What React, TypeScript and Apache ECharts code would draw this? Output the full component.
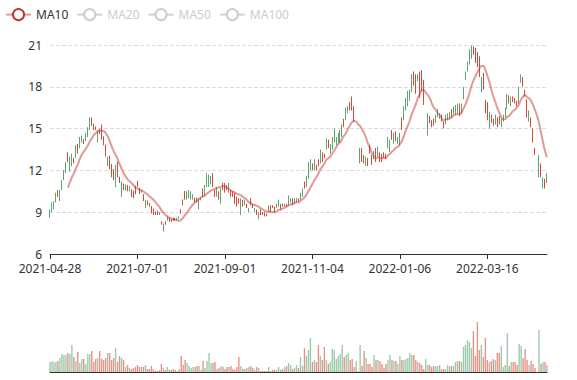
import React, { useEffect, useRef } from "react";
import * as echarts from "echarts";

// ---- categories: trading days ----
const START_DATE = "2021-04-28";
const DAY_COUNT = 251;
const HOLIDAYS = [
  "2021-05-03", "2021-05-04", "2021-10-01", "2021-10-04", "2022-01-03",
  "2022-01-31", "2022-02-01", "2022-02-02", "2022-02-03", "2022-02-04",
];

// ---- candles: [open, close, low, high] ----
const ohlc: number[][] = [
  [8.7, 9.1, 8.6, 9.2], [9.1, 9.6, 9.0, 9.7], [9.3, 9.7, 9.2, 9.8], [9.7, 10.3, 9.7, 10.4], [10.5, 10.2, 10.1, 10.6],
  [9.9, 10.5, 9.8, 10.6], [10.6, 11.2, 10.6, 11.3], [11.3, 11.9, 11.3, 12.0], [11.9, 12.5, 11.8, 12.6], [13.2, 12.7, 12.6, 13.3],
  [12.0, 12.9, 11.9, 13.0], [12.4, 13.1, 12.3, 13.2], [12.8, 12.6, 12.5, 12.9], [13.0, 13.7, 12.9, 13.8], [13.8, 13.3, 13.2, 13.9],
  [13.7, 14.3, 13.6, 14.4], [14.1, 14.4, 14.0, 14.5], [14.2, 14.0, 13.9, 14.25], [14.2, 14.6, 14.1, 14.7], [14.5, 15.0, 14.4, 15.1],
  [15.0, 15.7, 14.9, 15.8], [15.7, 15.3, 15.2, 15.8], [15.3, 15.0, 14.9, 15.35], [15.1, 14.95, 14.9, 15.15], [14.1, 14.8, 14.0, 14.9],
  [15.0, 14.7, 14.6, 15.0], [15.2, 14.3, 14.2, 15.3], [14.4, 13.9, 13.8, 14.45], [13.8, 13.1, 13.0, 13.85], [12.4, 12.9, 12.3, 13.0],
  [13.0, 12.2, 12.1, 13.05], [12.4, 11.6, 11.5, 12.45], [12.0, 11.4, 11.3, 12.1], [11.0, 12.3, 10.8, 12.4], [12.5, 11.6, 11.5, 12.6],
  [11.5, 11.2, 11.1, 11.55], [10.2, 11.1, 10.1, 11.2], [11.0, 10.7, 10.6, 11.05], [10.6, 10.9, 10.55, 11.0], [10.9, 10.6, 10.5, 10.95],
  [10.6, 10.8, 10.5, 10.9], [10.6, 10.2, 10.1, 10.65], [10.5, 10.1, 10.0, 10.55], [10.8, 10.4, 10.3, 10.9], [11.2, 11.0, 10.8, 11.25],
  [10.7, 10.4, 10.3, 10.75], [10.45, 10.55, 10.4, 10.6], [10.2, 9.9, 9.8, 10.3], [9.4, 9.8, 9.3, 9.9], [9.8, 9.6, 9.5, 9.85],
  [9.6, 9.45, 9.4, 9.65], [9.4, 9.0, 8.9, 9.45], [9.2, 8.9, 8.8, 9.25], [9.0, 8.85, 8.8, 9.05], [9.1, 8.9, 8.8, 9.1],
  [8.85, 8.95, 8.8, 9.0], [8.3, 8.15, 8.1, 8.35], [7.7, 8.1, 7.6, 8.2], [8.3, 8.15, 8.1, 8.35], [8.45, 8.65, 8.4, 8.7],
  [8.6, 8.35, 8.3, 8.62], [8.5, 8.35, 8.3, 8.52], [8.6, 8.45, 8.4, 8.62], [8.55, 8.45, 8.4, 8.57], [8.45, 8.55, 8.4, 8.6],
  [8.55, 8.65, 8.5, 8.7], [9.2, 8.95, 8.9, 9.22], [9.9, 9.6, 9.5, 9.92], [10.5, 10.0, 9.9, 10.52], [10.0, 10.4, 9.9, 10.5],
  [10.1, 10.5, 10.0, 10.6], [10.0, 10.4, 9.9, 10.5], [10.0, 10.2, 9.9, 10.3], [10.0, 9.8, 9.7, 10.05], [10.0, 9.8, 9.7, 10.05],
  [9.3, 9.9, 9.2, 10.0], [9.9, 10.0, 9.85, 10.05], [10.6, 10.2, 10.1, 10.7], [10.3, 10.9, 10.2, 10.95], [10.9, 11.7, 10.8, 11.8],
  [10.9, 11.6, 10.8, 11.7], [11.1, 11.5, 11.0, 11.6], [11.7, 10.9, 10.8, 11.8], [10.6, 10.2, 10.1, 10.6], [10.2, 10.7, 10.1, 10.8],
  [10.5, 10.0, 9.9, 10.5], [9.8, 10.6, 9.6, 10.7], [11.1, 10.7, 10.6, 11.1], [11.0, 10.5, 10.4, 11.1], [10.9, 10.7, 10.6, 10.95],
  [10.5, 11.0, 10.4, 11.1], [10.6, 10.2, 10.1, 10.6], [10.5, 10.2, 10.1, 10.5], [10.3, 9.7, 9.6, 10.4], [10.1, 9.5, 9.4, 10.1],
  [9.95, 9.7, 9.6, 10.0], [8.9, 9.9, 8.8, 10.0], [9.9, 9.5, 9.4, 9.9], [9.5, 9.8, 9.5, 9.9], [9.6, 9.35, 9.3, 9.6],
  [9.05, 9.25, 9.0, 9.3], [10.0, 9.6, 9.5, 10.0], [9.6, 9.35, 9.3, 9.6], [9.05, 9.25, 9.0, 9.3], [9.2, 8.85, 8.8, 9.2],
  [8.55, 8.95, 8.5, 9.0], [9.2, 8.85, 8.8, 9.2], [9.0, 8.85, 8.8, 9.0], [9.0, 8.75, 8.7, 9.0], [8.9, 8.75, 8.7, 8.9],
  [9.05, 9.45, 9.0, 9.5], [9.45, 9.05, 9.0, 9.5], [9.5, 9.35, 9.3, 9.5], [9.4, 9.05, 9.0, 9.4], [9.35, 9.55, 9.3, 9.6],
  [9.45, 9.85, 9.4, 9.9], [9.6, 9.25, 9.2, 9.6], [9.6, 9.45, 9.4, 9.6], [9.45, 9.55, 9.4, 9.6], [9.6, 9.45, 9.4, 9.6],
  [9.55, 10.1, 9.5, 10.2], [9.75, 9.95, 9.7, 10.0], [10.0, 9.6, 9.5, 10.0], [9.65, 9.95, 9.6, 10.0], [9.75, 9.95, 9.7, 10.0],
  [10.0, 9.8, 9.76, 10.0], [9.95, 10.35, 9.9, 10.4], [10.15, 10.65, 10.1, 10.7], [11.2, 10.75, 10.7, 11.2], [10.85, 11.55, 10.8, 11.6],
  [11.5, 12.5, 11.4, 12.6], [12.1, 12.7, 12.0, 12.8], [12.5, 12.05, 12.0, 12.5], [12.1, 12.7, 12.0, 12.8], [12.4, 12.05, 12.0, 12.4],
  [12.8, 12.35, 12.3, 12.8], [12.6, 13.4, 12.5, 13.5], [13.3, 12.7, 12.6, 13.3], [13.2, 12.95, 12.9, 13.2], [13.55, 14.2, 13.5, 14.3],
  [14.2, 13.65, 13.6, 14.2], [13.25, 13.85, 13.2, 13.9], [13.55, 14.3, 13.5, 14.4], [14.05, 14.9, 14.0, 15.0], [13.85, 14.35, 13.8, 14.4],
  [14.05, 14.6, 14.0, 14.7], [14.05, 14.8, 14.0, 14.9], [14.45, 15.2, 14.4, 15.3], [15.7, 15.15, 15.1, 15.7], [15.65, 16.4, 15.6, 16.5],
  [16.15, 16.55, 16.1, 16.6], [16.9, 16.35, 16.3, 16.9], [17.2, 16.4, 16.3, 17.3], [16.5, 15.6, 15.5, 16.6], [14.04, 14.04, 14.04, 14.04],
  [12.64, 12.64, 12.64, 12.64], [12.6, 13.4, 12.5, 13.6], [13.5, 12.8, 12.6, 13.6], [13.0, 12.6, 12.5, 13.1], [12.4, 12.9, 12.3, 13.0],
  [12.8, 12.4, 12.3, 12.9], [13.7, 13.3, 13.2, 13.8], [13.0, 12.5, 12.4, 13.1], [12.85, 13.3, 12.8, 13.4], [13.5, 12.7, 12.6, 13.6],
  [13.05, 13.6, 13.0, 13.7], [13.25, 12.7, 12.6, 13.3], [13.15, 12.7, 12.6, 13.2], [13.25, 12.95, 12.9, 13.3], [13.15, 12.85, 12.8, 13.2],
  [13.65, 14.3, 13.6, 14.4], [13.35, 14.1, 13.3, 14.2], [14.85, 14.25, 14.2, 14.9], [13.95, 14.6, 13.9, 14.7], [14.75, 14.15, 14.1, 14.8],
  [13.95, 14.35, 13.9, 14.4], [13.85, 14.6, 13.8, 14.7], [15.75, 14.95, 14.9, 15.8], [15.65, 16.5, 15.6, 16.6], [16.35, 17.1, 16.3, 17.2],
  [16.65, 17.6, 16.6, 17.7], [17.05, 17.7, 17.0, 17.8], [17.65, 18.8, 17.6, 18.9], [19.0, 18.2, 18.1, 19.1], [18.8, 17.6, 17.5, 18.9],
  [18.45, 18.85, 18.4, 18.9], [19.0, 17.3, 17.2, 19.1], [19.1, 17.8, 17.7, 19.2], [18.4, 16.8, 16.7, 18.5], [15.12, 15.12, 15.12, 15.12],
  [14.6, 16.0, 14.5, 16.1], [15.85, 15.5, 15.4, 15.9], [15.55, 15.15, 15.1, 15.6], [15.65, 15.25, 15.2, 15.7], [15.45, 15.9, 15.4, 16.0],
  [15.85, 16.3, 15.8, 16.4], [15.75, 16.05, 15.7, 16.1], [15.95, 15.55, 15.5, 16.0], [15.45, 15.05, 15.0, 15.5], [15.35, 15.9, 15.3, 16.0],
  [15.65, 16.05, 15.6, 16.1], [15.75, 16.15, 15.7, 16.2], [16.35, 15.85, 15.8, 16.4], [16.05, 16.5, 16.0, 16.6], [16.05, 16.6, 16.0, 16.7],
  [16.15, 16.7, 16.1, 16.8], [16.75, 16.0, 15.9, 16.8], [16.15, 16.7, 16.1, 16.8], [17.15, 17.9, 17.1, 18.0], [18.55, 19.0, 18.5, 19.1],
  [19.15, 19.7, 19.1, 19.8], [19.65, 20.6, 19.6, 20.7], [20.05, 20.9, 20.0, 20.95], [20.85, 20.35, 20.3, 20.9], [20.75, 19.75, 19.7, 20.8],
  [20.45, 19.45, 19.4, 20.5], [20.15, 18.75, 18.7, 20.2], [17.65, 18.6, 17.6, 18.7], [18.95, 17.85, 17.8, 19.0], [17.0, 16.15, 16.1, 17.05],
  [16.85, 15.65, 15.6, 16.9], [15.05, 16.1, 15.0, 16.2], [15.95, 15.45, 15.4, 16.0], [15.65, 15.25, 15.2, 15.7], [15.35, 15.9, 15.3, 16.0],
  [15.75, 15.15, 15.1, 15.8], [15.85, 15.35, 15.3, 15.9], [15.15, 15.6, 15.1, 15.7], [15.55, 15.95, 15.5, 16.0], [15.9, 16.4, 15.8, 16.5],
  [16.45, 17.4, 16.4, 17.5], [17.35, 16.85, 16.8, 17.4], [16.65, 17.2, 16.6, 17.3], [17.25, 16.95, 16.9, 17.3], [17.15, 16.85, 16.8, 17.2],
  [16.95, 16.65, 16.6, 17.0], [16.85, 17.9, 16.8, 18.0], [18.35, 18.8, 18.3, 18.9], [18.65, 18.05, 18.0, 18.7], [17.75, 17.35, 17.3, 17.8],
  [17.05, 15.85, 15.8, 17.1], [15.6, 16.2, 15.5, 16.3], [15.75, 15.15, 15.1, 15.8], [14.95, 14.05, 14.0, 15.0], [13.55, 13.15, 13.1, 13.6],
  [12.6, 12.6, 12.6, 12.6], [11.6, 12.9, 11.5, 13.1], [12.4, 11.6, 11.5, 12.5], [10.8, 11.4, 10.7, 11.5], [11.35, 10.8, 10.7, 11.4],
  [11.15, 11.7, 11.1, 11.8],
];

// ---- volume (arbitrary units) ----
const volumes: number[] = [
  10, 11, 10, 10, 11, 14, 18, 17, 17, 19, 18, 27, 15, 11, 20, 9, 13, 13, 8, 18,
  18, 21, 10, 13, 14, 21, 13, 12, 14, 19, 19, 12, 14, 24, 10, 16, 14, 12, 5, 7,
  4, 3, 4, 5, 7, 5, 5, 5, 7, 3, 3, 6, 3, 1, 1, 2, 8, 4, 2, 5,
  2, 2, 3, 2, 1, 3, 16, 7, 12, 9, 6, 4, 5, 5, 6, 6, 2, 11, 4, 11,
  19, 9, 9, 10, 3, 4, 6, 5, 3, 5, 5, 6, 3, 2, 5, 15, 6, 3, 3, 4,
  5, 6, 4, 2, 5, 4, 1, 1, 1, 1, 5, 1, 2, 2, 2, 5, 2, 3, 5, 6,
  9, 7, 3, 4, 7, 4, 15, 6, 24, 16, 22, 34, 10, 12, 10, 27, 16, 12, 25, 12,
  8, 10, 23, 22, 13, 16, 18, 27, 15, 17, 19, 12, 13, 5, 11, 1, 27, 6, 21, 14,
  8, 8, 5, 17, 12, 12, 11, 8, 4, 8, 12, 17, 12, 11, 11, 8, 16, 12, 12, 13,
  14, 19, 17, 17, 12, 10, 9, 7, 3, 13, 7, 7, 5, 6, 6, 6, 7, 3, 3, 3,
  7, 6, 6, 6, 10, 11, 11, 10, 25, 27, 32, 30, 24, 41, 16, 50, 22, 27, 15, 34,
  12, 10, 11, 13, 12, 19, 19, 26, 5, 7, 39, 6, 10, 10, 10, 7, 28, 26, 14, 23,
  12, 7, 11, 8, 4, 0, 42, 8, 10, 10, 7,
];

const MA_NAMES = ["MA10", "MA20", "MA50", "MA100"];
const MA_DAYS = [10, 20, 50, 100];
const MA_COLORS = ["#c23531", "#2f4554", "#61a0a8", "#d48265"];

const UP_COLOR = "#5aa573";
const DOWN_COLOR = "#dc4634";

function tradingDays(start: string, count: number, holidays: string[]): string[] {
  const out: string[] = [];
  const [y, m, d] = start.split("-").map(Number);
  let t = Date.UTC(y, m - 1, d);
  const skip = new Set(holidays);
  while (out.length < count) {
    const dt = new Date(t);
    const wd = dt.getUTCDay();
    const s = dt.toISOString().slice(0, 10);
    if (wd !== 0 && wd !== 6 && !skip.has(s)) out.push(s);
    t += 86400000;
  }
  return out;
}

function movingAverage(n: number): (number | string)[] {
  return ohlc.map((_, i) => {
    if (i < n - 1) return "-";
    let s = 0;
    for (let j = 0; j < n; j++) s += ohlc[i - j][1];
    return +(s / n).toFixed(3);
  });
}

export default function App() {
  const ref = useRef<HTMLDivElement>(null);
  useEffect(() => {
    if (!ref.current) return;
    const chart = echarts.init(ref.current, null, { renderer: "svg" });
    const dates = tradingDays(START_DATE, DAY_COUNT, HOLIDAYS);
    const font = "'Microsoft YaHei', 'Noto Sans', sans-serif";
    const volData = volumes.map((v, i) => ({
      value: v,
      itemStyle: { color: ohlc[i][0] > ohlc[i][1] ? DOWN_COLOR : UP_COLOR, opacity: 0.6 },
    }));
    chart.setOption({
      animation: false,
      textStyle: { fontFamily: font },
      legend: {
        top: 3,
        left: 0,
        data: MA_NAMES,
        selected: { MA20: false, MA50: false, MA100: false },
        inactiveColor: "#ccc",
        textStyle: { color: "#333", fontSize: 12, fontFamily: font },
      },
      grid: [
        { left: 50, right: 30, top: 45, height: 209 },
        { left: 50, right: 30, top: 312, height: 60 },
      ],
      xAxis: [
        {
          type: "category",
          data: dates,
          boundaryGap: false,
          axisLine: { onZero: false, lineStyle: { color: "#333" } },
          axisTick: { lineStyle: { color: "#333" } },
          splitLine: { show: false },
          axisLabel: { interval: 43, color: "#333", fontSize: 12, fontFamily: font },
        },
        {
          type: "category",
          gridIndex: 1,
          data: dates,
          boundaryGap: false,
          axisLine: { onZero: false, lineStyle: { color: "#333" } },
          axisTick: { show: false },
          axisLabel: { show: false },
          splitLine: { show: false },
        },
      ],
      yAxis: [
        {
          type: "value",
          min: 6,
          max: 21,
          interval: 3,
          axisLine: { show: false },
          axisTick: { show: false },
          axisLabel: { color: "#333", fontSize: 12, fontFamily: font },
          splitLine: { lineStyle: { type: "dashed", color: "#ddd" } },
        },
        { type: "value", gridIndex: 1, min: 0, max: 60, show: false, splitLine: { show: false } },
      ],
      series: [
        {
          name: "K",
          type: "candlestick",
          data: ohlc,
          itemStyle: {
            color: UP_COLOR,
            color0: DOWN_COLOR,
            borderColor: UP_COLOR,
            borderColor0: DOWN_COLOR,
          },
        },
        ...MA_NAMES.map((name, k) => ({
          name,
          type: "line",
          data: movingAverage(MA_DAYS[k]),
          smooth: true,
          showSymbol: false,
          color: MA_COLORS[k],
          lineStyle: { width: 2, opacity: 0.5 },
        })),
        {
          name: "Volume",
          type: "bar",
          xAxisIndex: 1,
          yAxisIndex: 1,
          data: volData,
        },
      ],
    });
    return () => chart.dispose();
  }, []);
  return (
    <div
      ref={ref}
      style={{ position: "fixed", left: 0, top: 0, width: 577, height: 380, background: "#fff" }}
    />
  );
}
